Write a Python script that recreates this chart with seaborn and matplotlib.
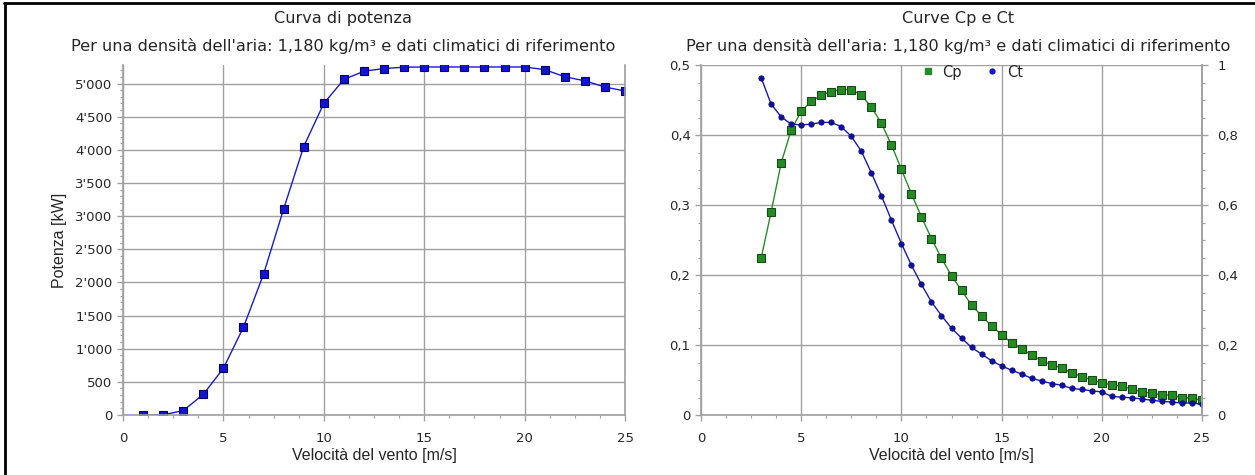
import matplotlib
matplotlib.use("Agg")
import matplotlib.pyplot as plt
from matplotlib.ticker import MultipleLocator, FuncFormatter
from matplotlib.lines import Line2D
import seaborn as sns
import numpy as np

# ---- data ----
wind_power = [1, 2, 3, 4, 5, 6, 7, 8, 9, 10, 11, 12, 13, 14, 15, 16, 17, 18, 19, 20, 21, 22, 23, 24, 25]
power_kw = [0, 3, 66, 311, 705, 1325, 2125, 3108, 4050, 4700, 5062, 5186, 5227, 5247, 5250,
            5250, 5250, 5250, 5250, 5250, 5210, 5103, 5041, 4948, 4887]

wind_coef = [3.0, 3.5, 4.0, 4.5, 5.0, 5.5, 6.0, 6.5, 7.0, 7.5, 8.0, 8.5, 9.0, 9.5, 10.0,
             10.5, 11.0, 11.5, 12.0, 12.5, 13.0, 13.5, 14.0, 14.5, 15.0, 15.5, 16.0, 16.5,
             17.0, 17.5, 18.0, 18.5, 19.0, 19.5, 20.0, 20.5, 21.0, 21.5, 22.0, 22.5, 23.0,
             23.5, 24.0, 24.5, 25.0]
cp = [0.224, 0.290, 0.360, 0.407, 0.434, 0.448, 0.457, 0.462, 0.465, 0.465, 0.457, 0.440,
      0.417, 0.386, 0.351, 0.316, 0.283, 0.252, 0.224, 0.199, 0.178, 0.157, 0.142, 0.127,
      0.115, 0.103, 0.094, 0.086, 0.077, 0.072, 0.067, 0.060, 0.055, 0.050, 0.046, 0.043,
      0.041, 0.037, 0.033, 0.031, 0.029, 0.028, 0.025, 0.024, 0.021]
ct = [0.964, 0.888, 0.852, 0.831, 0.829, 0.831, 0.836, 0.836, 0.824, 0.796, 0.754, 0.692,
      0.627, 0.557, 0.490, 0.428, 0.373, 0.323, 0.284, 0.248, 0.220, 0.193, 0.174, 0.155,
      0.140, 0.128, 0.117, 0.105, 0.097, 0.090, 0.085, 0.076, 0.073, 0.069, 0.066, 0.053,
      0.051, 0.049, 0.046, 0.042, 0.039, 0.037, 0.034, 0.034, 0.031]

title_left = "Curva di potenza"
title_right = "Curve Cp e Ct"
subtitle = "Per una densità dell'aria: 1,180 kg/m³ e dati climatici di riferimento"
xlabel = "Velocità del vento [m/s]"
ylabel_left = "Potenza [kW]"

# ---- style ----
sns.set_theme(style="white")
plt.rcParams["font.family"] = ["DejaVu Sans"]

GRID = "#a0a0a0"

W, H = 1255, 475
fig = plt.figure(figsize=(W / 100, H / 100), dpi=100)
fig.patch.set_facecolor("white")

def fx(px):
    return px / W

def fy(py):
    return 1 - py / H

ax_bottom = fy(415)
ax_h = (415 - 65) / H
axL = fig.add_axes([fx(123), ax_bottom, fx(502), ax_h])
axR = fig.add_axes([fx(701), ax_bottom, fx(501), ax_h])

def style_axes(ax):
    ax.set_facecolor("white")
    for s in ["left", "bottom", "right"]:
        ax.spines[s].set_visible(True)
        ax.spines[s].set_color(GRID)
        ax.spines[s].set_linewidth(1.2)
    ax.spines["top"].set_visible(False)
    ax.grid(True, which="major", color=GRID, linewidth=1.0)
    ax.set_axisbelow(True)
    ax.tick_params(axis="both", which="major", direction="out", length=4.5, width=1,
                   color=GRID, labelsize=9.5)
    ax.tick_params(axis="both", which="minor", direction="out", length=2.5, width=0.8,
                   color=GRID)
    ax.tick_params(axis="y", which="both", right=False, left=True)
    ax.tick_params(axis="y", which="major", pad=3)
    ax.tick_params(axis="x", which="both", bottom=True, top=False)
    ax.tick_params(axis="x", which="major", pad=8)
    ax.xaxis.set_major_locator(MultipleLocator(5))
    ax.xaxis.set_minor_locator(MultipleLocator(1.25))
    ax.set_xlim(0, 25)

def comma_fmt(v, pos):
    if abs(v) < 1e-9:
        return "0"
    if abs(v - round(v)) < 1e-9:
        return str(int(round(v)))
    return ("%g" % round(v, 3)).replace(".", ",")

def thousands_fmt(v, pos):
    s = "{:,}".format(int(round(v)))
    return s.replace(",", "'")

# ---- left chart ----
style_axes(axL)
sns.lineplot(x=wind_power, y=power_kw, ax=axL, color="#1a1acc", linewidth=1.0,
             marker="s", markersize=5.4, markerfacecolor="#1414d2",
             markeredgecolor="#000066", markeredgewidth=0.8, errorbar=None, sort=False)
axL.set_ylim(0, 5280)
axL.yaxis.set_major_locator(MultipleLocator(500))
axL.yaxis.set_minor_locator(MultipleLocator(100))
axL.yaxis.set_major_formatter(FuncFormatter(thousands_fmt))
axL.set_xlabel(xlabel, fontsize=11.5, family="Liberation Sans")
axL.set_ylabel(ylabel_left, fontsize=11.5, family="Liberation Sans")
axL.xaxis.set_label_coords(0.5, -0.095)
axL.yaxis.set_label_coords(-0.112, 0.5)

# ---- right chart ----
style_axes(axR)
sns.lineplot(x=wind_coef, y=cp, ax=axR, color="#2a8a2a", linewidth=1.0,
             marker="s", markersize=5.4, markerfacecolor="#268a26",
             markeredgecolor="#174a17", markeredgewidth=0.8, errorbar=None, sort=False)
axR.set_ylim(0, 0.5)
axR.yaxis.set_major_locator(MultipleLocator(0.1))
axR.yaxis.set_minor_locator(MultipleLocator(0.025))
axR.yaxis.set_major_formatter(FuncFormatter(comma_fmt))
axR.set_xlabel(xlabel, fontsize=11.5, family="Liberation Sans")
axR.xaxis.set_label_coords(0.5, -0.095)
axR.set_ylabel("")

axT = axR.twinx()
axT.set_ylim(0, 1)
axT.set_xlim(0, 25)
sns.lineplot(x=wind_coef, y=ct, ax=axT, color="#1a1ab0", linewidth=1.0,
             marker="o", markersize=3.9, markerfacecolor="#10109a",
             markeredgecolor="#0a0a80", markeredgewidth=0.5, errorbar=None, sort=False)
for s in ["left", "bottom", "top"]:
    axT.spines[s].set_visible(False)
axT.spines["right"].set_color(GRID)
axT.spines["right"].set_linewidth(1.2)
axT.grid(False)
axT.yaxis.set_major_locator(MultipleLocator(0.2))
axT.yaxis.set_minor_locator(MultipleLocator(0.05))
axT.yaxis.set_major_formatter(FuncFormatter(comma_fmt))
axT.tick_params(axis="y", which="major", direction="out", length=4.5, width=1,
                color=GRID, labelsize=9.5, pad=6.5, right=True, left=False)
axT.tick_params(axis="y", which="minor", direction="out", length=2.5, width=0.8,
                color=GRID, right=True, left=False)
axT.set_ylabel("")

handles = [
    Line2D([], [], linestyle="none", marker="s", markersize=5, markerfacecolor="#268a26",
           markeredgecolor="#268a26", label="Cp"),
    Line2D([], [], linestyle="none", marker="o", markersize=3.5, markerfacecolor="#1414c8",
           markeredgecolor="#1414c8", label="Ct"),
]
axT.legend(handles=handles, loc="center", bbox_to_anchor=(0.54, (415 - 72) / 350),
           ncol=2, frameon=False, fontsize=10.5, handletextpad=0.5, columnspacing=1.6,
           handlelength=1.0)

# ---- titles ----
for cx, t in [(343, title_left), (958, title_right)]:
    fig.text(fx(cx), fy(18), t, ha="center", va="center", fontsize=11.6, family="DejaVu Sans")
    fig.text(fx(cx), fy(46), subtitle, ha="center", va="center", fontsize=11.6,
             family="DejaVu Sans")

# ---- outer frame (top and left edges) ----
fig.add_artist(Line2D([fx(4), 1], [fy(3), fy(3)], color="black", linewidth=2,
                      transform=fig.transFigure))
fig.add_artist(Line2D([fx(5), fx(5)], [0, fy(3)], color="black", linewidth=2,
                      transform=fig.transFigure))

fig.savefig("out.png", dpi=100, facecolor="white")
